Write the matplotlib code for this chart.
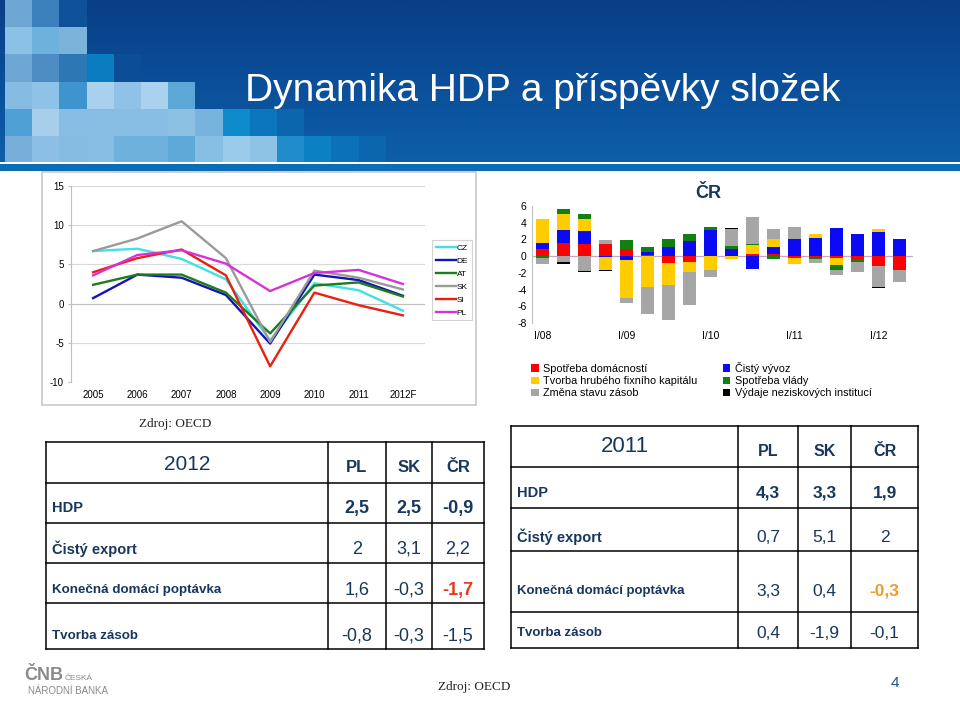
import numpy as np
import matplotlib
matplotlib.use("Agg")
import matplotlib.pyplot as plt
from matplotlib.patches import Rectangle
from matplotlib.colors import LinearSegmentedColormap

# --- data: HDP growth by country (line chart) ---
years = ["2005", "2006", "2007", "2008", "2009", "2010", "2011", "2012F"]
countries = ["CZ", "DE", "AT", "SK", "SI", "PL"]
gdp_cz = [6.7, 7.0, 5.7, 3.1, -4.7, 2.6, 1.7, -0.9]
gdp_de = [0.7, 3.7, 3.3, 1.1, -5.1, 3.7, 3.0, 1.0]
gdp_at = [2.4, 3.7, 3.7, 1.4, -3.8, 2.3, 2.7, 0.9]
gdp_sk = [6.7, 8.3, 10.5, 5.8, -4.9, 4.2, 3.3, 1.8]
gdp_si = [4.0, 5.8, 6.9, 3.6, -8.0, 1.4, -0.2, -1.5]
gdp_pl = [3.6, 6.2, 6.8, 5.1, 1.6, 3.9, 4.3, 2.5]

# --- data: contributions to CZ GDP growth by quarter (bar chart) ---
quarters = ["I/08", "II/08", "III/08", "IV/08", "I/09", "II/09", "III/09", "IV/09",
            "I/10", "II/10", "III/10", "IV/10", "I/11", "II/11", "III/11", "IV/11",
            "I/12", "II/12"]
households = [0.8, 1.6, 1.4, 1.4, 0.9, 0.1, -0.8, -0.7, 0, 0, 0.2, 0.2, -0.2, -0.2, -0.2, -0.3, -1.2, -1.6]
net_export = [0.8, 1.5, 1.6, -0.15, -0.5, 0.35, 1.1, 1.8, 3.1, 0.9, -1.5, 0.9, 2.0, 2.2, 3.4, 2.7, 2.9, 2.1]
gfcf = [2.8, 2.0, 1.4, -1.45, -4.5, -3.7, -2.7, -1.2, -1.7, -0.4, 1.1, 1.0, -0.7, 0.5, -0.8, 0, 0.4, 0]
government = [-0.2, 0.5, 0.7, 0, 1.0, 0.7, 1.0, 0.8, 0.4, 0.3, 0.1, -0.4, 0, -0.2, -0.7, -0.4, 0, -0.1]
inventories = [-0.7, -0.7, -1.8, 0.5, -0.6, -3.2, -4.2, -4.0, -0.8, 2.0, 3.3, 1.1, 1.5, -0.4, -0.5, -1.2, -2.5, -1.4]
npish = [0, -0.2, -0.15, -0.15, 0, 0, 0, 0, 0, 0.2, 0, 0, 0, 0, 0, 0, -0.15, 0]
component_names = ["Spotřeba domácností", "Čistý vývoz", "Tvorba hrubého fixního kapitálu",
                   "Spotřeba vlády", "Změna stavu zásob", "Výdaje neziskových institucí"]

# --- data: tables ---
table_rows = ["HDP", "Čistý export", "Konečná domácí poptávka", "Tvorba zásob"]
table_cols = ["PL", "SK", "ČR"]
vals_2012 = [[2.5, 2.5, -0.9], [2, 3.1, 2.2], [1.6, -0.3, -1.7], [-0.8, -0.3, -1.5]]
vals_2011 = [[4.3, 3.3, 1.9], [0.7, 5.1, 2], [3.3, 0.4, -0.3], [0.4, -1.9, -0.1]]

NAVY = "#17375E"
SANS = ["Liberation Sans", "DejaVu Sans"]
plt.rcParams["font.family"] = SANS

W, H = 960, 701
fig = plt.figure(figsize=(9.6, 7.01), dpi=100)
bg = fig.add_axes([0, 0, 1, 1], zorder=0)
bg.set_xlim(0, W)
bg.set_ylim(H, 0)
bg.axis("off")


def fax(x0, y0, x1, y1, **kw):
    # axes placed by pixel box (top-left origin)
    return fig.add_axes([x0 / W, 1 - y1 / H, (x1 - x0) / W, (y1 - y0) / H], **kw)


# --- banner ---
grad = np.linspace(0, 1, 100)[:, None] * np.ones((1, 2))
cm_banner = LinearSegmentedColormap.from_list("b", ["#093F87", "#0B4E99", "#0E5EA8"])
bg.imshow(grad, cmap=cm_banner, extent=(0, W, 162, 0), aspect="auto", zorder=0)

mosaic = [
    ["#6EA6D4", "#3B80BC", "#0F5199"],
    ["#8CC1E6", "#6DB1DD", "#7BB3DA"],
    ["#6FA7D4", "#4E8DC4", "#2C77B4", "#0A7DC1", "#0B4D96"],
    ["#86BCE4", "#8EC3E7", "#3E94CE", "#A9D1EE", "#8FC2E6", "#AAD2EF", "#5BA8D7"],
    ["#4FA1D5", "#A7CEEB", "#87BDE3", "#87BDE3", "#87BDE3", "#87BDE3", "#8DC1E4", "#77B3DC",
     "#0D8BCB", "#0B76BB", "#0B66AE"],
    ["#77AFDA", "#8DBFE4", "#87BCE2", "#87BDE2", "#6EB1DC", "#6EB1DC", "#5FA9D8", "#87BEE3",
     "#9BCBEA", "#8FC3E6", "#1F8BCB", "#0B80C3", "#0B72B8", "#0C66AE"],
]
cell = 27.2
for r, row in enumerate(mosaic):
    for c, col in enumerate(row):
        bg.add_patch(Rectangle((5 + c * cell, r * cell), cell, cell, color=col, lw=0, zorder=1))

bg.add_patch(Rectangle((0, 162), W, 2, color="white", lw=0, zorder=2))
bg.add_patch(Rectangle((0, 164), W, 7, color="#0A6DB5", lw=0, zorder=2))
bg.text(245, 91, "Dynamika HDP a příspěvky složek", color="white", fontsize=28,
        va="center", ha="left", zorder=3)

# --- left line chart ---
bg.add_patch(Rectangle((42, 172), 434, 233, fill=False, ec="#C8C8C8", lw=1.2, zorder=1))
ax1 = fax(71, 186, 425, 382)
xs = np.arange(len(years))
series = [gdp_cz, gdp_de, gdp_at, gdp_sk, gdp_si, gdp_pl]
colors = ["#3FE0E6", "#1414B4", "#1E7B1E", "#9A9A9A", "#E8200F", "#D633D6"]
handles = []
for vals, col, name in zip(series, colors, countries):
    h, = ax1.plot(xs, vals, color=col, lw=1.7, label=name, zorder=3)
    handles.append(h)
ax1.set_xlim(-0.5, len(years) - 0.5)
ax1.set_ylim(-10, 15)
ax1.set_yticks([-10, -5, 0, 5, 10, 15])
ax1.set_yticklabels(["-10", "-5", "0", "5", "10", "15"], fontsize=7)
ax1.set_xticks(xs)
ax1.set_xticklabels(years, fontsize=7)
ax1.grid(axis="y", color="#D9D9D9", lw=0.8)
ax1.set_axisbelow(True)
for s in ["top", "right", "bottom"]:
    ax1.spines[s].set_visible(False)
ax1.spines["left"].set_color("#BFBFBF")
ax1.tick_params(axis="y", length=2, color="#BFBFBF", pad=3)
ax1.tick_params(axis="x", length=0, pad=6)
ax1.axhline(0, color="#BFBFBF", lw=0.8, zorder=2)
leg1 = fig.legend(handles=handles, loc="upper left", bbox_to_anchor=(432 / W, 1 - 240 / H),
                  fontsize=6, handlelength=2.4, labelspacing=0.62, borderpad=0.45,
                  handletextpad=0.1, borderaxespad=0, frameon=True, fancybox=False)
leg1.get_frame().set_edgecolor("#C8C8C8")
leg1.get_frame().set_linewidth(0.8)

# --- right bar chart ---
ax2 = fax(532, 206, 913, 323)
comps = [households, net_export, gfcf, government, inventories, npish]
bar_colors = ["#FF0000", "#0A0AF5", "#FFCC00", "#108010", "#A6A6A6", "#000000"]
qx = np.arange(len(quarters))
pos_base = np.zeros(len(quarters))
neg_base = np.zeros(len(quarters))
bar_handles = []
for vals, col, name in zip(comps, bar_colors, component_names):
    v = np.array(vals, dtype=float)
    base = np.where(v >= 0, pos_base, neg_base)
    b = ax2.bar(qx, v, bottom=base, width=0.62, color=col, lw=0, label=name, zorder=3)
    bar_handles.append(b)
    pos_base = pos_base + np.where(v > 0, v, 0)
    neg_base = neg_base + np.where(v < 0, v, 0)
ax2.axhline(0, color="#C9A6C9", lw=0.9, zorder=2)
ax2.set_xlim(-0.52, len(quarters) - 0.35)
ax2.set_ylim(-8, 6)
ax2.set_yticks(np.arange(-8, 7, 2))
ax2.set_yticklabels([str(t) for t in range(-8, 7, 2)], fontsize=7.5)
ax2.set_xticks(qx[::4])
ax2.set_xticklabels(quarters[::4], fontsize=7.5)
ax2.tick_params(axis="x", length=0, pad=6)
ax2.tick_params(axis="y", length=0, pad=4)
for s in ["top", "right", "bottom"]:
    ax2.spines[s].set_visible(False)
ax2.spines["left"].set_color("#BFBFBF")
bg.text(708, 193, "ČR", color=NAVY, fontsize=13, fontweight="bold",
        ha="center", va="center")
order = [0, 2, 4, 1, 3, 5]
fig.legend([bar_handles[i] for i in order], [component_names[i] for i in order],
           ncol=2, loc="upper left", bbox_to_anchor=(531 / W, 1 - 362 / H), frameon=False,
           fontsize=7.8, handlelength=0.7, handleheight=0.7, handletextpad=0.45,
           labelspacing=0.2, columnspacing=2.3, borderpad=0, borderaxespad=0)


# --- tables ---
def fmt(v):
    return f"{v:g}".replace(".", ",")


def draw_table(xe, ye, year, vals, label_y, head_y, sizes, hl_color):
    for x in xe:
        bg.plot([x, x], [ye[0], ye[-1]], color="black", lw=1.1, zorder=2)
    for y in ye:
        bg.plot([xe[0], xe[-1]], [y, y], color="black", lw=1.1, zorder=2)
    bg.text((xe[0] + xe[1]) / 2, head_y[0], year, color=NAVY, fontsize=sizes[0],
            ha="center", va="center")
    for j, c in enumerate(table_cols):
        bg.text((xe[j + 1] + xe[j + 2]) / 2, head_y[1], c, color=NAVY, fontsize=sizes[1],
                fontweight="bold", ha="center", va="center")
    for i, name in enumerate(table_rows):
        fs = sizes[2] if i < 2 else sizes[3]
        bg.text(xe[0] + 6, label_y[i], name, color=NAVY, fontsize=fs, fontweight="bold",
                ha="left", va="center")
        for j, v in enumerate(vals[i]):
            bold = i == 0 or (i == 2 and j == 2)
            col = hl_color if (i == 2 and j == 2) else NAVY
            bg.text((xe[j + 1] + xe[j + 2]) / 2, label_y[i], fmt(v), color=col, fontsize=sizes[4],
                    fontweight="bold" if bold else "normal", ha="center", va="center")


draw_table([46, 328, 386, 432, 484], [442, 483, 523, 563, 603, 649], "2012", vals_2012,
           [508, 549, 590, 636], [465, 468], [15, 12, 10.5, 9.6, 13], "#E03C1E")
draw_table([511, 738, 798, 851, 918], [426, 467, 508, 551, 612, 648], "2011", vals_2011,
           [493, 537, 591, 633], [447, 452], [16, 11.5, 10.5, 9.5, 12.5], "#F39A27")

bg.text(175, 424, "Zdroj: OECD", family=["Liberation Serif", "DejaVu Serif"], fontsize=9.5,
        color="#222222", ha="center", va="center")
bg.text(474, 687, "Zdroj: OECD", family=["Liberation Serif", "DejaVu Serif"], fontsize=9.5,
        color="#222222", ha="center", va="center")
bg.text(895, 683, "4", color="#1F4E8C", fontsize=11, ha="center", va="center")

# --- logo ---
bg.text(24, 680, "ČNB", color="#8A8A8A", fontsize=13, fontweight="bold",
        ha="left", va="baseline")
bg.text(65, 680, "ČESKÁ", color="#8A8A8A", fontsize=6, ha="left", va="baseline")
bg.text(28, 694, "NÁRODNÍ BANKA", color="#8A8A8A", fontsize=7, ha="left", va="baseline")

fig.savefig("out.png", dpi=100)
